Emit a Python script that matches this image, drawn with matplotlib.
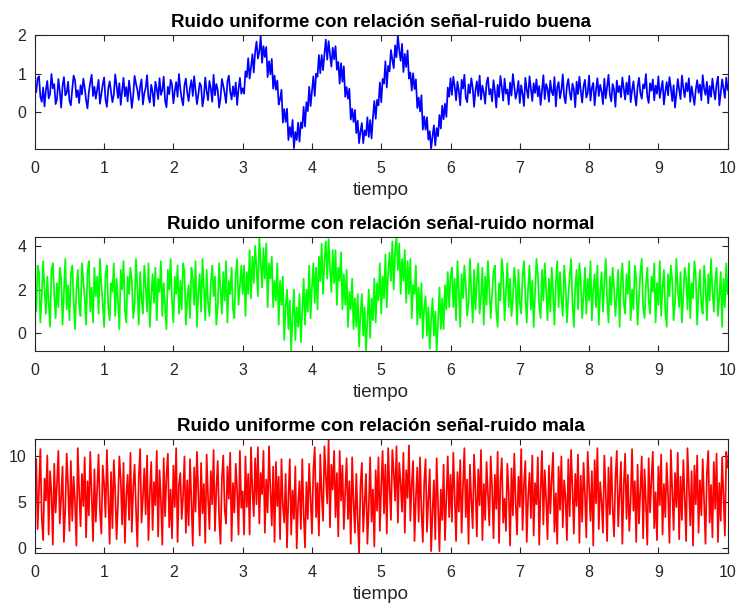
import numpy as np
import matplotlib
matplotlib.use("Agg")
import matplotlib.pyplot as plt

# Señal muestreada cada 0.02 s entre 0 y 10 s (501 muestras por serie):
# ruido uniforme más un seno de 1 Hz entre t=3 y t=6

buena = [
    0.71, 0.52, 0.88, 0.93, 0.40, 0.27, 0.64, 0.15, 0.58, 0.81,
    0.36, 0.47, 0.99, 0.62, 0.73, 0.21, 0.34, 0.86, 0.55, 0.12,
    0.68, 0.91, 0.44, 0.50, 0.79, 0.29, 0.18, 0.60, 0.95, 0.83,
    0.39, 0.57, 0.24, 0.70, 0.46, 0.87, 0.63, 0.31, 0.10, 0.53,
    0.77, 0.97, 0.42, 0.66, 0.35, 0.59, 0.84, 0.22, 0.48, 0.72,
    0.90, 0.33, 0.14, 0.61, 0.80, 0.54, 0.26, 0.45, 0.98, 0.69,
    0.37, 0.75, 0.19, 0.56, 0.89, 0.41, 0.65, 0.28, 0.82, 0.50,
    0.11, 0.43, 0.94, 0.74, 0.58, 0.32, 0.67, 0.85, 0.20, 0.49,
    0.63, 0.96, 0.38, 0.25, 0.71, 0.52, 0.16, 0.79, 0.60, 0.34,
    0.88, 0.45, 0.57, 0.92, 0.30, 0.13, 0.66, 0.47, 0.84, 0.72,
    0.23, 0.55, 0.78, 0.40, 0.99, 0.61, 0.35, 0.18, 0.70, 0.87,
    0.51, 0.29, 0.64, 0.83, 0.42, 0.93, 0.57, 0.21, 0.46, 0.76,
    0.68, 0.15, 0.39, 0.90, 0.54, 0.31, 0.81, 0.62, 0.27, 0.97,
    0.44, 0.73, 0.58, 0.12, 0.36, 0.86, 0.69, 0.49, 0.24, 0.80,
    0.95, 0.53, 0.33, 0.67, 0.41, 0.77, 0.19, 0.60, 0.89, 0.48,
    # t = 3 ... 6
    0.62, 0.48, 1.06, 0.91, 1.40, 0.87, 1.16, 1.50, 1.03, 1.57,
    1.83, 1.39, 1.57, 1.97, 1.28, 1.71, 1.43, 1.69, 0.91, 1.32,
    0.98, 1.38, 0.61, 0.95, 0.58, 0.82, 0.20, 0.34, 0.58, -0.27,
    0.08, -0.25, 0.09, -0.72, -0.38, -0.64, -0.20, -0.93, -0.51, -0.72,
    -0.27, -0.76, -0.26, -0.41, 0.14, -0.37, 0.26, 0.03, 0.66, 0.16,
    0.56, 0.93, 0.42, 1.00, 0.92, 1.48, 1.01, 1.48, 1.09, 1.51,
    1.88, 1.36, 1.84, 1.51, 1.18, 1.67, 1.37, 1.71, 1.10, 1.30,
    0.74, 1.27, 0.79, 1.19, 0.40, 0.65, 0.35, 0.61, -0.19, 0.09,
    -0.25, 0.06, -0.54, -0.22, -0.80, -0.50, -0.28, -0.80, -0.47, -0.60,
    -0.13, -0.64, -0.20, -0.68, -0.14, 0.29, -0.17, 0.32, 0.18, 0.77,
    0.26, 0.86, 0.74, 1.32, 0.64, 1.20, 1.06, 1.61, 1.36, 1.14,
    1.73, 1.42, 1.99, 1.60, 1.33, 1.77, 1.04, 1.51, 1.17, 1.60,
    0.87, 1.03, 0.56, 1.01, 0.60, 0.85, 0.11, 0.38, 0.02, 0.44,
    -0.45, -0.11, -0.45, -0.13, -0.71, -0.49, -0.95, -0.62, -0.34, -0.86,
    -0.41, -0.62, -0.07, -0.42, 0.17, -0.18, 0.22, -0.12, 0.64, 0.40,
    0.88,
    # t > 6
    0.45, 0.92, 0.67, 0.31, 0.79, 0.55, 0.18, 0.84, 0.61, 0.97,
    0.38, 0.26, 0.72, 0.49, 0.88, 0.63, 0.14, 0.57, 0.80, 0.42,
    0.95, 0.33, 0.69, 0.51, 0.22, 0.76, 0.90, 0.46, 0.60, 0.28,
    0.83, 0.54, 0.12, 0.71, 0.39, 0.94, 0.65, 0.30, 0.87, 0.48,
    0.59, 0.20, 0.77, 0.43, 0.99, 0.66, 0.35, 0.52, 0.81, 0.24,
    0.70, 0.47, 0.16, 0.89, 0.58, 0.37, 0.93, 0.62, 0.29, 0.75,
    0.50, 0.85, 0.41, 0.68, 0.19, 0.56, 0.96, 0.34, 0.73, 0.61,
    0.27, 0.82, 0.53, 0.44, 0.91, 0.15, 0.64, 0.78, 0.36, 0.57,
    0.98, 0.40, 0.23, 0.69, 0.86, 0.51, 0.32, 0.74, 0.60, 0.13,
    0.79, 0.47, 0.92, 0.55, 0.25, 0.67, 0.84, 0.38, 0.49, 0.95,
    0.30, 0.63, 0.76, 0.18, 0.58, 0.88, 0.42, 0.71, 0.54, 0.21,
    0.87, 0.36, 0.65, 0.97, 0.45, 0.28, 0.73, 0.59, 0.14, 0.82,
    0.52, 0.68, 0.39, 0.90, 0.61, 0.33, 0.77, 0.46, 0.94, 0.26,
    0.57, 0.80, 0.43, 0.17, 0.66, 0.89, 0.50, 0.35, 0.72, 0.62,
    0.99, 0.41, 0.24, 0.75, 0.56, 0.85, 0.31, 0.69, 0.48, 0.93,
    0.37, 0.60, 0.81, 0.20, 0.53, 0.78, 0.44, 0.91, 0.64, 0.29,
    0.70, 0.12, 0.47, 0.86, 0.58, 0.34, 0.95, 0.63, 0.39, 0.76,
    0.54, 0.88, 0.27, 0.67, 0.42, 0.19, 0.59, 0.83, 0.50, 0.72,
    0.31, 0.96, 0.61, 0.45, 0.79, 0.23, 0.68, 0.40, 0.87, 0.55,
    0.33, 0.74, 0.92, 0.18, 0.49, 0.85, 0.62, 0.37, 0.90, 0.58,
]

normal = [
    2.4, 1.0, 3.1, 2.8, 0.5, 1.7, 3.3, 2.0, 0.9, 2.6,
    1.4, 0.3, 2.9, 3.2, 1.8, 0.7, 2.3, 1.2, 3.0, 2.5,
    0.4, 1.9, 3.4, 1.1, 2.2, 0.6, 2.7, 3.1, 1.5, 0.2,
    2.0, 2.9, 1.3, 0.8, 3.2, 2.4, 1.6, 0.4, 2.8, 3.3,
    1.0, 2.1, 0.5, 3.0, 1.7, 2.6, 0.9, 3.4, 2.2, 1.4,
    0.3, 2.7, 3.1, 1.2, 0.6, 2.3, 1.9, 3.2, 0.8, 2.5,
    1.5, 0.2, 2.9, 2.0, 3.3, 1.1, 0.5, 2.6, 1.8, 3.0,
    2.4, 0.7, 1.3, 3.4, 2.1, 0.4, 2.8, 1.6, 0.9, 3.1,
    2.2, 1.0, 3.2, 0.3, 1.7, 2.7, 1.4, 3.0, 0.6, 2.5,
    1.9, 3.3, 0.8, 2.3, 1.2, 0.2, 2.9, 2.0, 3.4, 1.5,
    0.5, 2.6, 1.8, 3.1, 0.9, 2.4, 1.1, 3.2, 2.8, 0.4,
    1.6, 2.2, 0.7, 3.0, 2.5, 1.3, 3.3, 0.3, 1.9, 2.7,
    1.0, 3.4, 2.1, 0.6, 2.9, 1.4, 0.8, 2.3, 3.1, 1.7,
    2.6, 0.4, 1.2, 3.2, 2.0, 0.9, 2.8, 1.5, 3.3, 0.5,
    2.4, 1.8, 3.0, 1.1, 0.7, 2.7, 3.4, 1.3, 2.2, 3.1,
    # t = 3 ... 6
    1.8, 3.1, 0.8, 2.8, 1.8, 3.8, 1.6, 3.5, 2.3, 4.0,
    3.0, 1.7, 4.4, 3.3, 2.1, 3.9, 2.5, 4.1, 1.2, 3.2,
    2.5, 3.5, 1.2, 2.4, 1.5, 3.2, 0.4, 2.4, 1.3, 2.6,
    -0.3, 1.3, 2.0, 0.2, 1.5, -0.8, 0.8, 2.0, -0.3, 1.2,
    0.3, 1.8, -0.4, 1.1, 2.5, 0.4, 2.0, 1.0, 3.1, 0.7,
    2.1, 3.2, 1.4, 3.0, 1.1, 3.5, 2.4, 4.1, 1.8, 3.3,
    4.2, 2.5, 4.3, 3.0, 1.9, 3.8, 2.3, 3.8, 1.3, 3.0,
    2.4, 3.7, 1.1, 2.7, 1.3, 2.9, 0.3, 1.9, 1.1, 2.5,
    0.2, 1.6, 0.3, 1.8, -0.6, 0.9, 1.8, -0.1, 1.2, -0.8,
    0.6, 2.0, -0.2, 1.6, 0.6, 2.5, 0.5, 2.3, 1.5, 3.2,
    0.9, 2.6, 1.6, 3.6, 1.2, 2.8, 3.7, 2.4, 4.2, 2.0,
    3.7, 4.4, 2.9, 4.1, 1.8, 3.4, 2.4, 3.8, 1.4, 3.3,
    1.8, 3.4, 0.7, 2.2, 1.8, 3.1, 0.4, 2.1, 0.7, 2.3,
    -0.2, 1.2, 1.7, -0.1, 1.2, -0.7, 0.6, 1.6, -0.1, 1.0,
    -0.8, 0.5, 2.1, 0.2, 1.6, 0.2, 2.2, 1.1, 2.8, 1.2,
    2.6,
    # t > 6
    3.0, 1.2, 2.5, 0.6, 3.3, 1.9, 0.3, 2.7, 1.6, 3.1,
    2.2, 0.8, 1.4, 3.4, 2.0, 0.5, 2.9, 1.1, 2.4, 3.2,
    0.9, 1.7, 3.0, 0.4, 2.6, 1.3, 3.3, 2.1, 0.7, 1.8,
    2.8, 3.1, 1.0, 0.3, 2.3, 1.5, 3.4, 2.7, 0.6, 1.9,
    3.2, 1.2, 2.5, 0.8, 1.6, 3.0, 2.2, 0.4, 2.9, 1.4,
    0.9, 2.6, 3.3, 1.7, 0.5, 2.1, 3.1, 1.1, 2.4, 0.3,
    1.8, 3.4, 2.7, 1.3, 0.7, 2.9, 1.5, 3.2, 2.0, 0.6,
    2.5, 1.0, 3.0, 1.9, 0.4, 2.3, 3.3, 1.2, 2.8, 1.6,
    0.8, 3.1, 2.2, 0.5, 1.7, 2.6, 3.4, 1.4, 0.3, 2.1,
    2.9, 1.1, 3.2, 2.4, 0.7, 1.8, 3.0, 0.9, 2.5, 1.5,
    3.3, 0.6, 2.0, 2.7, 1.2, 3.1, 0.4, 1.9, 2.8, 1.0,
    2.3, 3.4, 1.6, 0.5, 2.6, 1.3, 3.0, 2.1, 0.8, 1.7,
    2.9, 0.3, 2.4, 3.2, 1.4, 0.9, 2.7, 1.8, 3.3, 0.6,
    2.0, 1.1, 3.1, 2.5, 0.4, 1.6, 2.8, 3.4, 1.2, 0.7,
    2.2, 3.0, 1.5, 0.9, 2.6, 1.9, 3.2, 0.5, 2.3, 1.3,
    3.3, 0.8, 2.1, 2.9, 1.0, 0.3, 2.7, 1.7, 3.1, 2.4,
    0.6, 1.4, 3.4, 2.0, 1.2, 2.8, 0.5, 1.8, 3.0, 2.5,
    1.1, 3.2, 0.7, 2.3, 1.6, 3.3, 2.6, 0.4, 1.9, 2.9,
    1.3, 0.9, 3.1, 2.2, 0.6, 2.7, 1.5, 3.4, 2.0, 1.0,
    2.4, 3.0, 0.8, 1.7, 2.8, 0.3, 2.5, 1.2, 3.2, 1.8,
]

mala = [
    4.8, 9.7, 2.1, 6.5, 10.8, 3.3, 0.9, 7.6, 5.2, 10.1,
    1.5, 8.4, 6.0, 0.4, 9.2, 3.9, 7.1, 10.6, 2.7, 5.6,
    8.9, 0.7, 4.4, 10.3, 6.8, 1.9, 9.5, 3.0, 7.8, 5.0,
    0.3, 10.9, 6.2, 2.4, 8.1, 4.6, 9.9, 1.2, 7.3, 3.6,
    10.5, 5.9, 0.8, 8.6, 2.9, 6.7, 10.2, 4.1, 1.6, 9.0,
    7.0, 3.4, 10.7, 5.4, 0.5, 8.3, 2.2, 9.6, 6.3, 1.0,
    4.9, 10.0, 7.5, 2.6, 9.3, 0.6, 5.8, 8.0, 3.1, 10.4,
    1.8, 6.6, 9.1, 4.3, 0.2, 7.7, 10.8, 2.8, 5.5, 8.7,
    3.7, 10.1, 0.9, 6.1, 9.4, 2.0, 7.2, 4.7, 10.6, 1.3,
    8.5, 5.3, 0.4, 9.8, 3.5, 7.9, 10.3, 2.3, 6.4, 1.1,
    9.0, 4.5, 10.9, 0.7, 6.9, 8.2, 3.2, 5.7, 10.0, 1.7,
    7.4, 2.5, 9.7, 5.1, 0.3, 8.8, 4.0, 10.5, 6.0, 1.4,
    9.3, 3.8, 7.0, 0.6, 10.2, 5.6, 2.1, 8.4, 4.8, 10.7,
    1.9, 6.5, 9.5, 3.3, 0.5, 7.6, 10.1, 4.2, 2.7, 8.9,
    5.4, 10.4, 0.8, 7.1, 3.9, 9.2, 6.3, 1.5, 10.6, 4.4,
    # t = 3 ... 6
    6.2, 1.5, 10.0, 4.5, 8.1, 1.5, 11.0, 6.3, 3.5, 9.8,
    4.8, 11.0, 2.7, 8.2, 5.9, 10.6, 1.7, 7.5, 3.9, 11.1,
    6.4, 2.5, 8.9, 0.7, 9.4, 4.6, 7.8, 1.0, 9.7, 4.7,
    2.8, 8.1, 0.1, 5.6, 9.7, 1.5, 6.3, 3.2, 8.9, 0.0,
    4.9, 7.3, 2.1, 9.7, 3.7, 0.1, 7.2, 3.2, 9.2, 5.5,
    1.6, 8.5, 11.0, 3.4, 7.1, 1.4, 10.2, 5.8, 3.0, 11.1,
    8.0, 4.9, 11.9, 2.3, 9.1, 6.4, 10.6, 3.4, 8.2, 1.3,
    10.6, 5.2, 9.0, 2.1, 6.2, 9.8, 3.2, 7.3, 0.5, 9.9,
    5.1, 1.7, 8.1, 3.2, -0.5, 6.8, 9.3, 1.8, 5.0, 8.1,
    0.5, 4.4, 9.9, 2.9, 6.4, 0.2, 8.5, 4.1, 9.9, 1.9,
    6.9, 10.6, 3.8, 9.1, 1.6, 10.9, 6.6, 3.1, 10.7, 8.3,
    5.2, 11.1, 2.8, 9.3, 7.1, 4.0, 10.4, 1.7, 8.5, 5.5,
    11.2, 3.0, 7.0, 9.5, 0.8, 5.5, 8.8, 2.9, 9.9, 4.1,
    0.7, 7.2, 9.7, 1.8, 5.4, 8.6, -0.3, 3.9, 7.4, 1.0,
    9.8, 4.7, -0.3, 6.4, 3.1, 9.1, 0.9, 5.6, 10.0, 3.4,
    8.0,
    # t > 6
    2.9, 10.4, 5.7, 0.8, 8.3, 4.0, 9.6, 1.7, 6.8, 10.9,
    3.4, 7.5, 0.5, 9.1, 5.2, 2.2, 10.2, 6.4, 1.3, 8.6,
    4.7, 10.7, 0.9, 7.0, 3.1, 9.4, 5.9, 2.5, 10.0, 6.6,
    1.1, 8.0, 4.3, 10.5, 0.6, 7.3, 9.8, 2.8, 5.4, 1.9,
    9.2, 6.1, 0.3, 8.7, 3.6, 10.3, 5.0, 1.5, 7.8, 4.5,
    10.8, 2.0, 6.9, 9.5, 0.7, 5.6, 8.2, 3.3, 10.1, 1.4,
    7.1, 4.8, 9.9, 0.4, 6.3, 10.6, 2.6, 8.5, 5.3, 1.0,
    9.0, 3.8, 7.6, 10.4, 1.8, 6.0, 0.5, 8.9, 4.2, 10.0,
    2.3, 7.4, 5.5, 0.9, 9.7, 3.5, 10.7, 6.5, 1.6, 8.1,
    4.6, 10.2, 0.6, 7.9, 2.9, 9.3, 5.8, 1.2, 10.5, 6.7,
    3.0, 8.4, 0.3, 9.6, 4.9, 10.9, 2.1, 7.2, 5.1, 1.7,
    10.1, 6.2, 0.8, 8.8, 3.7, 9.9, 4.4, 1.3, 7.7, 10.6,
    2.4, 5.9, 9.4, 0.5, 6.8, 10.3, 3.2, 8.0, 1.9, 5.3,
    10.8, 4.1, 7.3, 0.7, 9.1, 2.7, 6.4, 10.0, 1.1, 8.6,
    5.0, 0.4, 9.8, 3.9, 7.5, 10.5, 2.2, 6.1, 0.9, 8.9,
    4.7, 10.2, 1.5, 7.0, 3.4, 9.3, 5.7, 0.6, 10.7, 6.3,
    2.0, 8.2, 4.5, 10.4, 1.0, 7.8, 3.1, 9.6, 5.5, 0.8,
    10.9, 6.6, 2.5, 8.4, 0.3, 9.0, 4.8, 10.1, 1.7, 7.4,
    3.6, 9.7, 5.2, 0.5, 8.1, 10.6, 2.8, 6.9, 1.2, 9.4,
    4.3, 10.3, 0.7, 7.1, 3.0, 9.9, 5.8, 1.4, 10.5, 8.8,
]

titulos = [
    "Ruido uniforme con relación señal-ruido buena",
    "Ruido uniforme con relación señal-ruido normal",
    "Ruido uniforme con relación señal-ruido mala",
]
colores = ["#0000ff", "#00ff00", "#ff0000"]
yticks = [[0, 1, 2], [0, 2, 4], [0, 5, 10]]
xticks = list(range(0, 11))

plt.rcParams["font.family"] = ["Liberation Sans", "DejaVu Sans"]

fig = plt.figure(figsize=(7.41, 6.08), dpi=100)

# posiciones de los tres ejes [izq, abajo, ancho, alto]
posiciones = [
    [0.047, 0.755, 0.935, 0.1875],
    [0.047, 0.4227, 0.935, 0.1875],
    [0.047, 0.0905, 0.935, 0.1875],
]

gris = "#262626"

for serie, titulo, color, yt, pos in zip([buena, normal, mala], titulos,
                                          colores, yticks, posiciones):
    y = np.array(serie)
    t = np.linspace(0, 10, len(y))
    ax = fig.add_axes(pos)
    ax.plot(t, y, color=color, linewidth=1.25)
    ax.set_xlim(0, 10)
    ax.set_ylim(y.min(), y.max())
    ax.set_xticks(xticks)
    ax.set_yticks(yt)
    ax.tick_params(direction="in", top=True, right=True, length=4,
                   labelsize=11.5, labelcolor=gris, width=0.8, color=gris)
    ax.tick_params(axis="x", pad=9)
    ax.tick_params(axis="y", pad=6)
    for s in ax.spines.values():
        s.set_linewidth(0.8)
        s.set_color(gris)
    ax.set_title(titulo, fontsize=13.5, fontweight="bold", pad=6)
    ax.set_xlabel("tiempo", fontsize=13.5, color=gris, labelpad=4)

fig.savefig("out.png", dpi=100)
